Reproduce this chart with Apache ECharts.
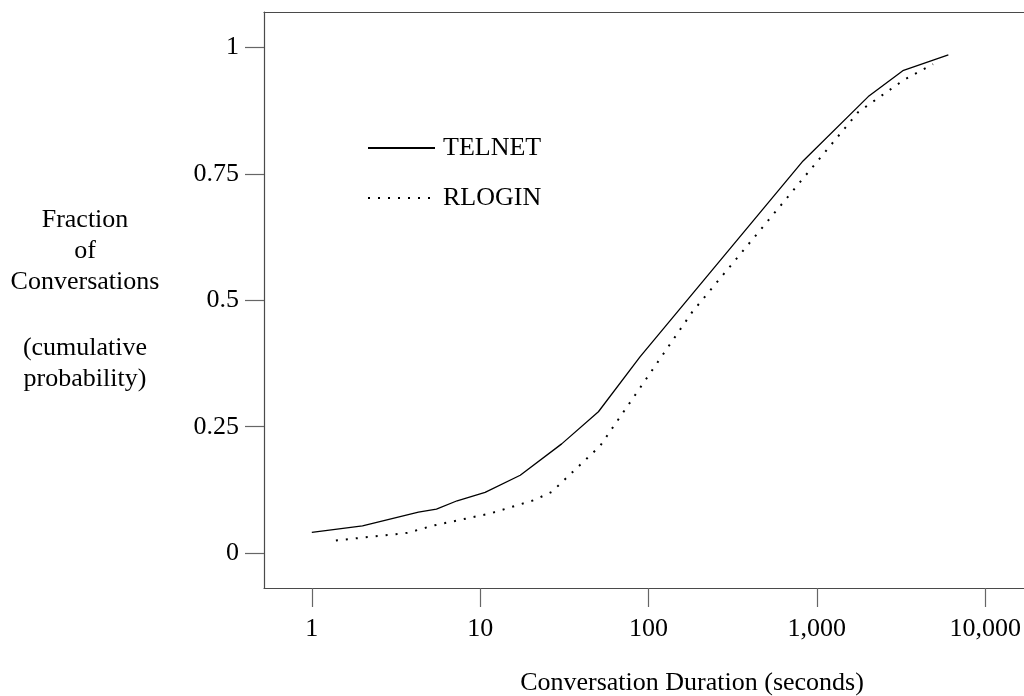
<!DOCTYPE html>
<html>
<head>
<meta charset="utf-8">
<script src="https://cdn.jsdelivr.net/npm/echarts@6/dist/echarts.min.js"></script>
<style>
  html, body { margin: 0; padding: 0; background: #fff; }
  #chart { width: 1024px; height: 696px; }
</style>
</head>
<body>
<div id="chart"></div>
<script>
// Cumulative distribution of conversation durations (seconds) for two protocols
const telnetDuration = [1, 2, 4.3, 5.5, 7.3, 10.7, 17.3, 30.5, 50.4, 89, 828, 2020, 3240, 6040];
const telnetFraction = [0.041, 0.054, 0.081, 0.087, 0.1035, 0.120, 0.154, 0.216, 0.2795, 0.388, 0.7755, 0.9027, 0.954, 0.985];

const rloginDuration = [1.39, 3.7, 5.2, 11.5, 21, 26.6, 51.6, 182, 1760, 3300, 4900];
const rloginFraction = [0.025, 0.040, 0.054, 0.0785, 0.105, 0.121, 0.212, 0.477, 0.872, 0.936, 0.967];

const xTickValues = [1, 10, 100, 1000, 10000];
const yTickValues = [0, 0.25, 0.5, 0.75, 1];

const seriesNames = ['TELNET', 'RLOGIN'];
const yTitleTop = 'Fraction\nof\nConversations';
const yTitleBottom = '(cumulative\nprobability)';
const xTitle = 'Conversation Duration (seconds)';

const FONT = 'Liberation Serif';
const FRAME = { color: '#4a4a4a', width: 1.2 };
const TICK = { color: '#666', width: 1.2 };
const pairs = (xs, ys) => xs.map((x, i) => [x, ys[i]]);

const chart = echarts.init(document.getElementById('chart'), null, { renderer: 'canvas' });

chart.setOption({
  animation: false,
  backgroundColor: '#fff',
  textStyle: { fontFamily: FONT, color: '#000' },
  grid: { left: 264, top: 12, right: 0, bottom: 108, show: false },
  legend: {
    orient: 'vertical',
    left: 362, top: 130,
    itemWidth: 67, itemHeight: 26, itemGap: 24,
    selectedMode: false,
    data: seriesNames,
    itemStyle: { opacity: 0 },
    textStyle: { fontFamily: FONT, fontSize: 26, color: '#000', padding: [0, 0, 0, 3] }
  },
  xAxis: [
    {
      type: 'log',
      logBase: 10,
      min: 0.52,
      max: 17000,
      axisLine: { show: true, onZero: false, lineStyle: FRAME },
      splitLine: { show: false },
      axisTick: {
        show: true, inside: false, length: 19,
        customValues: xTickValues,
        lineStyle: TICK
      },
      axisLabel: {
        customValues: xTickValues,
        margin: 28,
        fontFamily: FONT, fontSize: 26, color: '#000',
        formatter: v => Number(v).toLocaleString('en-US')
      }
    },
    {
      // top edge of the frame
      type: 'value',
      position: 'top',
      min: 0, max: 1,
      axisLine: { show: true, onZero: false, lineStyle: FRAME },
      axisTick: { show: false },
      axisLabel: { show: false },
      splitLine: { show: false }
    }
  ],
  yAxis: {
    type: 'value',
    min: -0.069,
    max: 1.07,
    axisLine: { show: true, onZero: false, lineStyle: FRAME },
    splitLine: { show: false },
    axisTick: {
      show: true, inside: false, length: 19,
      customValues: yTickValues,
      lineStyle: TICK
    },
    axisLabel: {
      customValues: yTickValues,
      margin: 25,
      fontFamily: FONT, fontSize: 26, color: '#000',
      formatter: v => String(v)
    }
  },
  graphic: [
    {
      type: 'text', x: 85, y: 205,
      style: {
        text: yTitleTop, font: '26px "' + FONT + '"', fill: '#000',
        textAlign: 'center', textVerticalAlign: 'top', lineHeight: 31
      }
    },
    {
      type: 'text', x: 85, y: 333,
      style: {
        text: yTitleBottom, font: '26px "' + FONT + '"', fill: '#000',
        textAlign: 'center', textVerticalAlign: 'top', lineHeight: 31
      }
    },
    {
      type: 'text', x: 692, y: 683,
      style: {
        text: xTitle, font: '26px "' + FONT + '"', fill: '#000',
        textAlign: 'center', textVerticalAlign: 'middle'
      }
    }
  ],
  series: [
    {
      name: seriesNames[0],
      type: 'line',
      xAxisIndex: 0,
      data: pairs(telnetDuration, telnetFraction),
      symbol: 'none',
      smooth: false,
      lineStyle: { color: '#000', width: 1.3, type: 'solid' },
      itemStyle: { color: '#000' }
    },
    {
      name: seriesNames[1],
      type: 'line',
      xAxisIndex: 0,
      data: pairs(rloginDuration, rloginFraction),
      symbol: 'none',
      smooth: false,
      lineStyle: { color: '#000', width: 2, type: [2, 8], cap: 'butt' },
      itemStyle: { color: '#000' }
    }
  ]
});
</script>
</body>
</html>
